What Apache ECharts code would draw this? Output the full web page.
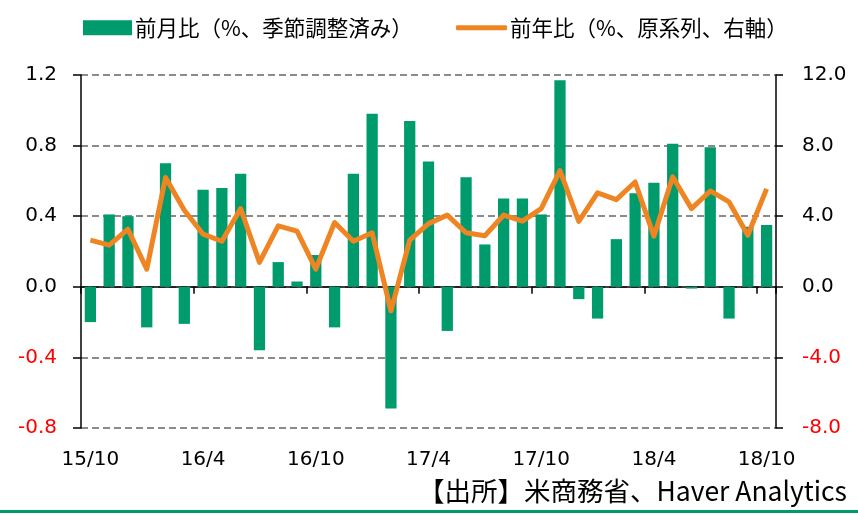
<!DOCTYPE html>
<html>
<head>
<meta charset="utf-8">
<script src="https://cdn.jsdelivr.net/npm/echarts@6/dist/echarts.min.js"></script>
<style>
html,body{margin:0;padding:0;background:#fff;}
#c{width:858px;height:515px;}
</style>
</head>
<body>
<div id="c"></div>
<script>
var categories = ['15/10','15/11','15/12','16/1','16/2','16/3','16/4','16/5','16/6','16/7','16/8','16/9','16/10','16/11','16/12',
  '17/1','17/2','17/3','17/4','17/5','17/6','17/7','17/8','17/9','17/10','17/11','17/12',
  '18/1','18/2','18/3','18/4','18/5','18/6','18/7','18/8','18/9','18/10'];
var momValues = [-0.20,0.41,0.40,-0.23,0.70,-0.21,0.55,0.56,0.64,-0.36,0.14,0.03,0.18,-0.23,0.64,
  0.98,-0.69,0.94,0.71,-0.25,0.62,0.24,0.50,0.50,0.41,1.17,-0.07,
  -0.18,0.27,0.53,0.59,0.81,-0.01,0.79,-0.18,0.34,0.35];
var yoyValues = [2.64,2.36,3.26,1.00,6.19,4.34,2.98,2.58,4.43,1.38,3.45,3.15,1.00,3.64,2.58,
  3.06,-1.36,2.64,3.58,4.06,3.06,2.89,4.06,3.72,4.43,6.58,3.70,
  5.32,4.94,5.94,2.87,6.23,4.43,5.43,4.81,2.92,5.55];
var leftTicks = {min:-0.8, max:1.2, interval:0.4};
var rightTicks = {min:-8, max:12, interval:4};
var seriesNames = ['前月比（%、季節調整済み）','前年比（%、原系列、右軸）'];
var sourceText = '【出所】米商務省、Haver Analytics';

var GREEN = '#009B6D', ORANGE = '#EF8522';
var numFont = 'DejaVu Sans';
var cjkFont = '"Noto Sans CJK JP"';

var chart = echarts.init(document.getElementById('c'), null, {renderer:'canvas'});
chart.setOption({
  animation:false,
  backgroundColor:'#fff',
  legend:[
    {data:[seriesNames[0]], left:78, top:12, itemWidth:49, itemHeight:15, icon:'rect',
     itemGap:0, textStyle:{fontFamily:cjkFont, fontSize:21.5, color:'#000', padding:[0,0,0,-2]}},
    {data:[{name:seriesNames[1], icon:'roundRect'}], left:451, top:12, itemWidth:51, itemHeight:5,
     textStyle:{fontFamily:cjkFont, fontSize:21.5, color:'#000', padding:[0,0,0,-2]}}
  ],
  grid:{left:81, right:82, top:75, bottom:87, containLabel:false},
  xAxis:[
    {type:'category', data:categories, boundaryGap:true,
     axisLine:{onZero:true, lineStyle:{color:'#000', width:1.5}},
     axisTick:{show:true, interval:5, length:7, inside:false, lineStyle:{color:'#000', width:1.5}},
     axisLabel:{show:false}},
    {type:'category', data:categories, boundaryGap:true, position:'bottom',
     axisLine:{show:false, onZero:false}, axisTick:{show:false},
     axisLabel:{interval:5, margin:22, fontFamily:numFont, fontSize:20, color:'#000'}}
  ],
  yAxis:[
    {type:'value', min:leftTicks.min, max:leftTicks.max, interval:leftTicks.interval, position:'left',
     axisLine:{show:true, lineStyle:{color:'#000', width:1.5}},
     axisTick:{show:true, length:8, lineStyle:{color:'#000', width:1.5}},
     axisLabel:{margin:24, fontFamily:numFont, fontSize:20,
       formatter:function(v){return v.toFixed(1);},
       color:function(v){return Number(v) < 0 ? '#FF0000' : '#000';}},
     splitLine:{show:true, lineStyle:{color:'#666', width:1.5, type:[7,4]}}},
    {type:'value', min:rightTicks.min, max:rightTicks.max, interval:rightTicks.interval, position:'right',
     axisLine:{show:true, lineStyle:{color:'#000', width:1.5}},
     axisTick:{show:true, length:7, lineStyle:{color:'#000', width:1.5}},
     axisLabel:{margin:26, fontFamily:numFont, fontSize:20,
       formatter:function(v){return Number(v).toFixed(1);},
       color:function(v){return Number(v) < 0 ? '#FF0000' : '#000';}},
     splitLine:{show:false}}
  ],
  series:[
    {name:seriesNames[0], type:'bar', xAxisIndex:0, yAxisIndex:0, data:momValues,
     barWidth:'60%', itemStyle:{color:GREEN}, z:2},
    {name:seriesNames[1], type:'line', xAxisIndex:0, yAxisIndex:1, data:yoyValues,
     symbol:'none', lineStyle:{color:ORANGE, width:5, join:'round'}, itemStyle:{color:ORANGE}, z:3}
  ],
  graphic:[
    {type:'text', right:11, top:478, style:{text:sourceText, fontFamily:cjkFont, fontSize:26.5, fill:'#000'}},
    {type:'rect', left:0, top:510, shape:{width:858, height:3}, style:{fill:GREEN}}
  ]
});
</script>
</body>
</html>
